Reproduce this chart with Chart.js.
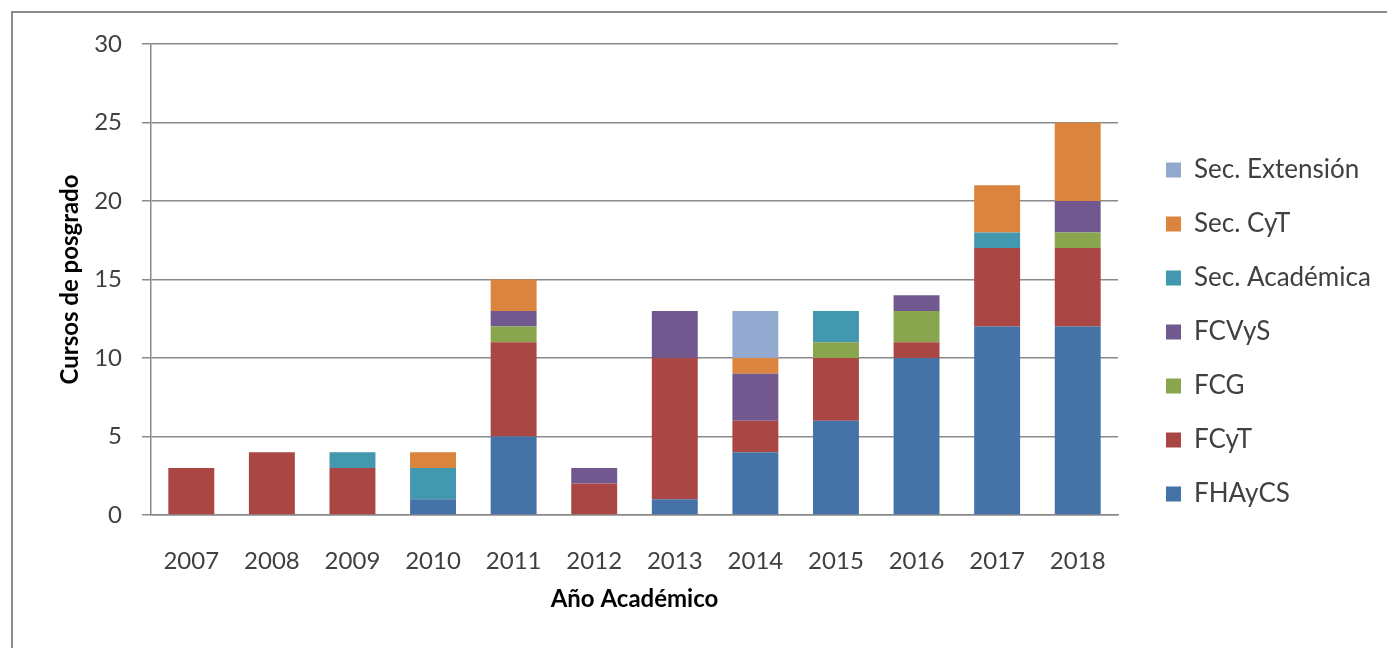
<!DOCTYPE html>
<html>
<head>
<meta charset="utf-8">
<script src="https://cdn.jsdelivr.net/npm/chart.js@4"></script>
<style>
  body { margin: 0; background: #fff; }
  #wrap { position: relative; width: 1387px; height: 648px; }
  #frame { position: absolute; left: 11px; top: 11px; right: 0; bottom: 0;
           border-left: 2px solid #8c8c8c; border-top: 2px solid #8c8c8c; pointer-events: none; }
</style>
</head>
<body>
<div id="wrap">
  <canvas id="chart" width="1387" height="648"></canvas>
  <div id="frame"></div>
</div>
<script>
// === Ma'lumotlar ===
const years = ["2007","2008","2009","2010","2011","2012","2013","2014","2015","2016","2017","2018"];
const fhaycs   = [0, 0, 0, 1, 5, 0, 1, 4, 6, 10, 12, 12];
const fcyt     = [3, 4, 3, 0, 6, 2, 9, 2, 4, 1, 5, 5];
const fcg      = [0, 0, 0, 0, 1, 0, 0, 0, 1, 2, 0, 1];
const fcvys    = [0, 0, 0, 0, 1, 1, 3, 3, 0, 1, 0, 2];
const secAcad  = [0, 0, 1, 2, 0, 0, 0, 0, 2, 0, 1, 0];
const secCyt   = [0, 0, 0, 1, 2, 0, 0, 1, 0, 0, 3, 5];
const secExt   = [0, 0, 0, 0, 0, 0, 0, 3, 0, 0, 0, 0];
const seriesNames = ["FHAyCS", "FCyT", "FCG", "FCVyS", "Sec. Académica", "Sec. CyT", "Sec. Extensión"];
const yTicks = [0, 5, 10, 15, 20, 25, 30];

const font = "Lato";
const gridColor = "#8a8a8a";
const legendFontSize = 26, legendBox = 15, legendPad = 28;

// legend kengligini o'lchab, grafik maydoni o'ng chegarasini 1118 px da ushlab turish
const mctx = document.createElement("canvas").getContext("2d");
mctx.font = legendFontSize + "px " + font;
const maxText = Math.max(...seriesNames.map(n => mctx.measureText(n).width));
const legendWidth = legendPad + legendBox + legendFontSize / 2 + maxText + 10;
const padRight = Math.max(0, 1387 - 1118 - legendWidth);

// legend qutisini o'ngga surish
const legendShift = {
  id: "legendShift",
  afterLayout(chart) {
    chart.legend.left += 20;
    chart.legend.right += 20;
  }
};

const ds = (label, data, color) => ({ label, data, backgroundColor: color, borderWidth: 0 });

new Chart(document.getElementById("chart"), {
  type: "bar",
  data: {
    labels: years,
    datasets: [
      ds(seriesNames[0], fhaycs, "#4572A7"),
      ds(seriesNames[1], fcyt, "#AA4643"),
      ds(seriesNames[2], fcg, "#89A54E"),
      ds(seriesNames[3], fcvys, "#71588F"),
      ds(seriesNames[4], secAcad, "#4198AF"),
      ds(seriesNames[5], secCyt, "#DB843D"),
      ds(seriesNames[6], secExt, "#93A9CF")
    ]
  },
  options: {
    responsive: false,
    animation: false,
    barPercentage: 0.57,
    categoryPercentage: 1,
    layout: { padding: { top: 44, bottom: 28, left: 0, right: padRight } },
    plugins: {
      tooltip: { enabled: false },
      legend: {
        position: "right",
        reverse: true,
        labels: {
          boxWidth: legendBox, boxHeight: legendBox, padding: legendPad,
          color: "#404040",
          font: { family: font, size: legendFontSize }
        }
      }
    },
    scales: {
      x: {
        stacked: true,
        grid: { display: false },
        border: { display: true, color: gridColor, width: 1.5 },
        ticks: { color: "#404040", padding: 24, font: { family: font, size: 24 } },
        title: { display: true, text: "Año Académico", color: "#000",
                 font: { family: font, size: 24, weight: "bold" }, padding: { top: 0, bottom: 6 } },
        afterFit: s => { s.height = 105; }
      },
      y: {
        stacked: true,
        min: 0, max: 30,
        afterBuildTicks: s => { s.ticks = yTicks.map(v => ({ value: v })); },
        grid: { color: gridColor, lineWidth: 1.5, tickLength: 9 },
        border: { display: true, color: gridColor, width: 1.5 },
        ticks: { color: "#404040", padding: 20, font: { family: font, size: 24 } },
        title: { display: true, text: "Cursos de posgrado", color: "#000",
                 font: { family: font, size: 24, weight: "bold" }, padding: { top: 56, bottom: 0 } },
        afterFit: s => { s.width = 151; }
      }
    }
  },
  plugins: [legendShift]
});
</script>
</body>
</html>
